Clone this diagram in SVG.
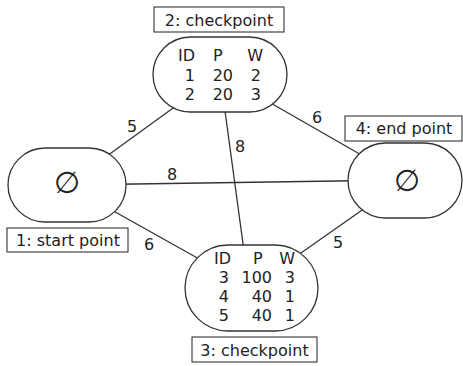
<svg xmlns="http://www.w3.org/2000/svg" width="463" height="366" viewBox="0 0 463 366">
  <style>
    .node { fill: #ffffff; stroke: #333333; stroke-width: 1.3; }
    .tag { fill: #ffffff; stroke: #333333; stroke-width: 1.1; }
    .edge { stroke: #333333; stroke-width: 1.3; fill: none; }
    text { font-family: "DejaVu Sans", "Liberation Sans", sans-serif; font-size: 16px; fill: #222222; }
    .mid { text-anchor: middle; }
    .end { text-anchor: end; }
    .sym { font-size: 30px; text-anchor: middle; }
  </style>
  <rect width="463" height="366" fill="#ffffff"/>

  <!-- connectors, drawn centre to centre and covered by the node shapes -->
  <g id="edges">
    <line class="edge" x1="67" y1="185" x2="220" y2="74"/>
    <line class="edge" x1="67" y1="185" x2="405" y2="180"/>
    <line class="edge" x1="67" y1="185" x2="251" y2="288"/>
    <line class="edge" x1="220" y1="74" x2="249" y2="288"/>
    <line class="edge" x1="220" y1="74" x2="405" y2="180"/>
    <line class="edge" x1="251" y1="288" x2="405" y2="180"/>
    <text class="mid" x="132" y="132">5</text>
    <text class="mid" x="172" y="180">8</text>
    <text class="mid" x="149" y="250">6</text>
    <text class="mid" x="240" y="152">8</text>
    <text class="mid" x="317" y="123">6</text>
    <text class="mid" x="338" y="248">5</text>
  </g>

  <!-- 1: start point -->
  <g id="node1">
    <rect class="node" x="8" y="148" width="118" height="74" rx="37" ry="37"/>
    <text class="sym" x="67" y="193">∅</text>
    <rect class="tag" x="7" y="228" width="121" height="24"/>
    <text class="mid" x="68" y="246">1: start point</text>
  </g>

  <!-- 2: checkpoint -->
  <g id="node2">
    <rect class="node" x="153" y="37" width="134" height="75" rx="37.5" ry="37.5"/>
    <rect class="tag" x="154" y="7" width="130" height="25"/>
    <text class="mid" x="219" y="26">2: checkpoint</text>
    <text class="end" x="195" y="61">ID</text>
    <text x="213" y="61">P</text>
    <text class="end" x="263" y="61">W</text>
    <text class="end" x="195" y="81">1</text>
    <text class="end" x="233" y="81">20</text>
    <text class="end" x="261" y="81">2</text>
    <text class="end" x="195" y="100">2</text>
    <text class="end" x="233" y="100">20</text>
    <text class="end" x="261" y="100">3</text>
  </g>

  <!-- 3: checkpoint -->
  <g id="node3">
    <rect class="node" x="185" y="245" width="133" height="86" rx="43" ry="43"/>
    <text class="end" x="231" y="264">ID</text>
    <text x="253" y="264">P</text>
    <text class="end" x="295" y="264">W</text>
    <text class="end" x="229" y="283">3</text>
    <text class="end" x="272" y="283">100</text>
    <text class="end" x="295" y="283">3</text>
    <text class="end" x="229" y="302">4</text>
    <text class="end" x="272" y="302">40</text>
    <text class="end" x="295" y="302">1</text>
    <text class="end" x="229" y="321">5</text>
    <text class="end" x="272" y="321">40</text>
    <text class="end" x="295" y="321">1</text>
    <rect class="tag" x="192" y="337" width="125" height="25"/>
    <text class="mid" x="254.5" y="356">3: checkpoint</text>
  </g>

  <!-- 4: end point -->
  <g id="node4">
    <rect class="node" x="348" y="143" width="114" height="75" rx="37.5" ry="37.5"/>
    <text class="sym" x="407" y="191">∅</text>
    <rect class="tag" x="345" y="116" width="117" height="25"/>
    <text class="mid" x="404" y="134">4: end point</text>
  </g>
</svg>
